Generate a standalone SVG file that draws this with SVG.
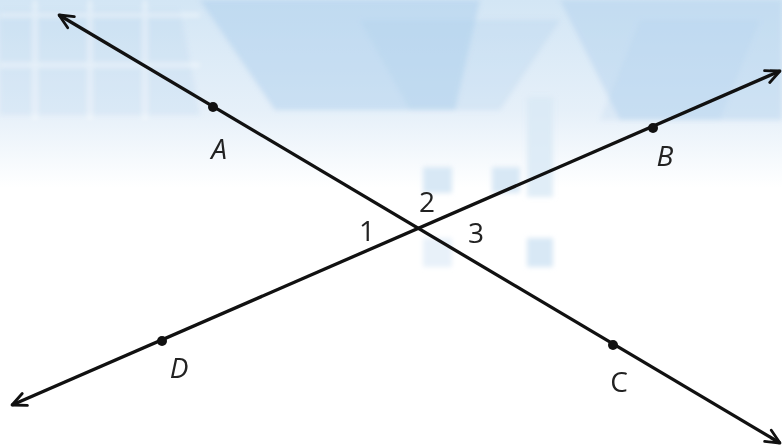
<svg xmlns="http://www.w3.org/2000/svg" width="782" height="447" viewBox="0 0 782 447">
  <defs>
    <linearGradient id="bg" x1="0" y1="0" x2="0" y2="1">
      <stop offset="0" stop-color="#d3e6f5"/>
      <stop offset="0.25" stop-color="#e6f0f9"/>
      <stop offset="0.42" stop-color="#ffffff"/>
      <stop offset="1" stop-color="#ffffff"/>
    </linearGradient>
    <filter id="soft" x="-5%" y="-5%" width="110%" height="110%">
      <feGaussianBlur stdDeviation="2.5"/>
    </filter>
    <marker id="arr" viewBox="-16 -9 18 18" markerWidth="18" markerHeight="18" refX="0" refY="0" orient="auto-start-reverse" markerUnits="userSpaceOnUse">
      <path d="M-14,-6.5 L0,0 L-14,6.5" fill="none" stroke="#111" stroke-width="2.8" stroke-linecap="round" stroke-linejoin="round"/>
    </marker>
    <style>
      .line { stroke: #111; stroke-width: 3.3; fill: none; }
      .dot { fill: #111; }
      .lbl { font-family: "Open Sans", "Noto Sans", "Liberation Sans", sans-serif; font-size: 28px; fill: #222; text-anchor: middle; }
      .it { font-style: italic; }
      .hex { fill: #a9cdeb; }
      .sq { fill: #d8e8f5; }
    </style>
  </defs>

  <!-- background decoration -->
  <g id="background">
    <rect x="0" y="0" width="782" height="447" fill="url(#bg)"/>
    <g filter="url(#soft)">
      <polygon class="hex" opacity="0.45" points="200,0 480,0 455,110 275,110"/>
      <polygon class="hex" opacity="0.25" points="360,20 560,20 500,110 410,110"/>
      <polygon class="hex" opacity="0.4" points="560,0 782,0 782,120 620,120"/>
      <polygon class="hex" opacity="0.2" points="640,20 760,20 720,120 600,120"/>
      <polygon class="hex" opacity="0.2" points="0,10 180,10 200,115 0,115"/>
      <g stroke="#ffffff" stroke-width="4" opacity="0.45">
        <line x1="35" y1="0" x2="35" y2="120"/>
        <line x1="90" y1="0" x2="90" y2="120"/>
        <line x1="145" y1="0" x2="145" y2="120"/>
        <line x1="0" y1="15" x2="200" y2="15"/>
        <line x1="0" y1="65" x2="200" y2="65"/>
      </g>
      <rect class="sq" x="423" y="167" width="29" height="26"/>
      <rect class="sq" x="492" y="167" width="28" height="26"/>
      <rect class="sq" x="527" y="97" width="26" height="100" opacity="0.8"/>
      <rect class="sq" x="527" y="238" width="26" height="29"/>
      <rect class="sq" x="423" y="238" width="29" height="29" opacity="0.6"/>
    </g>
  </g>

  <!-- connectors: the two lines -->
  <g id="connectors">
    <line class="line" x1="59" y1="15" x2="780" y2="443" marker-start="url(#arr)" marker-end="url(#arr)"/>
    <line class="line" x1="12" y1="405" x2="780" y2="71" marker-start="url(#arr)" marker-end="url(#arr)"/>
  </g>

  <!-- points -->
  <g id="A"><circle class="dot" cx="213" cy="107" r="5"/><text class="lbl it" x="219" y="159">A</text></g>
  <g id="B"><circle class="dot" cx="653" cy="128" r="5"/><text class="lbl it" x="665" y="166">B</text></g>
  <g id="C"><circle class="dot" cx="613" cy="345" r="5"/><text class="lbl" x="619" y="392">C</text></g>
  <g id="D"><circle class="dot" cx="162" cy="341" r="5"/><text class="lbl it" x="179" y="378">D</text></g>

  <!-- angle labels -->
  <g id="angle1"><text class="lbl" x="367" y="241">1</text></g>
  <g id="angle2"><text class="lbl" x="427" y="212">2</text></g>
  <g id="angle3"><text class="lbl" x="476" y="243">3</text></g>
</svg>
